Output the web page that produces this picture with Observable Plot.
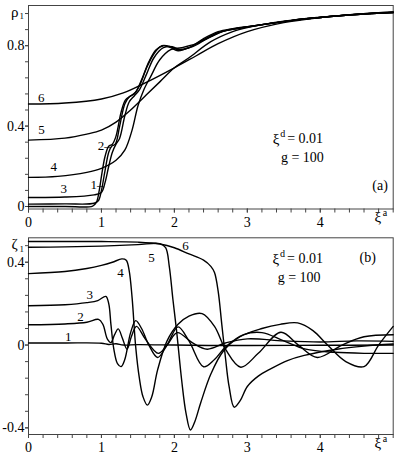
<!DOCTYPE html>
<html><head><meta charset="utf-8">
<script src="https://cdn.jsdelivr.net/npm/d3@7"></script>
<script src="https://cdn.jsdelivr.net/npm/@observablehq/plot@0.6"></script>
<style>body{margin:0;background:#fff} svg{display:block;overflow:visible} svg text{font-family:"Liberation Serif","DejaVu Serif",serif !important}</style>
</head><body><div id="chart"></div>
<script>
// ---- data ----
const xMajor = [0, 1, 2, 3, 4];
const rhoLabels = [0, 0.4, 0.8];
const zetaLabels = [-0.4, 0, 0.4];

// panel (a): rho_1 vs xi^a, curves 1..6
const rho1 = [[0,0],[0.5,0],[0.88,0.002],[0.93,0.02],[0.97,0.08],[1.0,0.15],[1.05,0.25],[1.1,0.3],[1.15,0.31],[1.2,0.35],[1.27,0.47],[1.33,0.53],[1.4,0.55],[1.47,0.57],[1.55,0.63],[1.65,0.72],[1.75,0.78],[1.85,0.8],[1.95,0.79],[2.05,0.775],[2.2,0.79],[2.4,0.835],[2.6,0.87],[2.8,0.885],[3,0.895],[3.3,0.91],[3.6,0.925],[4,0.94],[4.5,0.955],[5,0.965]];
const rho2 = [[0,0.012],[0.5,0.013],[0.9,0.016],[0.96,0.03],[1.0,0.08],[1.05,0.18],[1.1,0.27],[1.14,0.3],[1.19,0.31],[1.25,0.4],[1.32,0.51],[1.38,0.545],[1.45,0.56],[1.52,0.6],[1.62,0.69],[1.72,0.76],[1.83,0.8],[1.95,0.795],[2.05,0.78],[2.2,0.79],[2.4,0.83],[2.6,0.865],[2.8,0.882],[3,0.893],[3.3,0.91],[3.6,0.925],[4,0.94],[4.5,0.955],[5,0.965]];
const rho3 = [[0,0.045],[0.5,0.047],[0.9,0.058],[1.0,0.07],[1.05,0.12],[1.1,0.2],[1.15,0.27],[1.2,0.31],[1.25,0.34],[1.32,0.45],[1.38,0.52],[1.45,0.55],[1.52,0.58],[1.62,0.66],[1.72,0.74],[1.85,0.79],[1.97,0.795],[2.08,0.78],[2.25,0.795],[2.45,0.835],[2.65,0.87],[2.85,0.885],[3,0.895],[3.3,0.91],[3.6,0.925],[4,0.94],[4.5,0.955],[5,0.965]];
const rho4 = [[0,0.145],[0.4,0.15],[0.8,0.17],[1.0,0.19],[1.2,0.23],[1.32,0.28],[1.42,0.38],[1.5,0.5],[1.58,0.58],[1.68,0.65],[1.8,0.73],[1.95,0.78],[2.1,0.79],[2.3,0.81],[2.5,0.845],[2.7,0.875],[3,0.893],[3.3,0.91],[3.6,0.925],[4,0.94],[4.5,0.955],[5,0.965]];
const rho5 = [[0,0.33],[0.5,0.34],[0.8,0.36],[1.0,0.38],[1.2,0.42],[1.4,0.48],[1.6,0.55],[1.8,0.62],[2.0,0.69],[2.2,0.74],[2.5,0.82],[2.8,0.87],[3,0.89],[3.5,0.922],[4,0.942],[4.5,0.957],[5,0.967]];
const rho6 = [[0,0.51],[0.5,0.515],[1.0,0.535],[1.3,0.565],[1.6,0.615],[2.0,0.69],[2.3,0.75],[2.6,0.81],[3,0.87],[3.5,0.915],[4,0.94],[4.5,0.957],[5,0.968]];

// panel (b): zeta_1 vs xi^a, curves 1..6
const zeta1 = [[0,0.01],[0.5,0.01],[1.0,0.009],[1.1,0.003],[1.2,0.006],[1.3,0.0],[1.5,0.002],[2,0.0],[2.5,-0.002],[3,-0.002],[4,-0.001],[5,0.0]];
const zeta2 = [[0,0.098],[0.5,0.102],[0.8,0.11],[0.96,0.124],[1.02,0.1],[1.08,0.03],[1.13,0.012],[1.18,0.05],[1.23,0.078],[1.29,0.03],[1.35,-0.02],[1.41,0.04],[1.48,0.09],[1.6,0.03],[1.78,-0.04],[1.9,0.0],[2.04,0.06],[2.25,0.01],[2.45,-0.02],[2.7,0.01],[3.0,0.03],[3.5,0.02],[4,0.015],[4.5,0.02],[5,0.018]];
const zeta3 = [[0,0.19],[0.5,0.195],[0.8,0.205],[0.95,0.215],[1.06,0.235],[1.1,0.2],[1.13,0.1],[1.17,-0.02],[1.22,-0.09],[1.27,-0.104],[1.32,-0.07],[1.4,0.06],[1.47,0.118],[1.55,0.08],[1.65,0.0],[1.77,-0.06],[1.9,0.0],[2.05,0.088],[2.2,0.02],[2.4,-0.105],[2.55,-0.07],[2.7,-0.01],[2.95,0.05],[3.2,0.06],[3.5,0.02],[3.8,-0.02],[4.2,-0.035],[4.6,-0.04],[5,-0.04]];
const zeta4 = [[0,0.345],[0.5,0.355],[0.8,0.37],[1.0,0.385],[1.15,0.4],[1.28,0.416],[1.34,0.41],[1.38,0.36],[1.42,0.23],[1.47,-0.01],[1.52,-0.16],[1.57,-0.25],[1.63,-0.29],[1.69,-0.25],[1.77,-0.12],[1.9,0.02],[2.05,0.1],[2.2,0.14],[2.38,0.152],[2.55,0.09],[2.7,-0.02],[2.91,-0.107],[3.15,-0.04],[3.46,0.062],[3.7,0.0],[3.96,-0.06],[4.3,0.0],[4.6,0.04],[5,0.05]];
const zeta5 = [[0,0.472],[0.5,0.474],[1.0,0.478],[1.5,0.485],[1.8,0.49],[1.88,0.47],[1.93,0.38],[1.98,0.22],[2.03,0.07],[2.1,-0.17],[2.16,-0.33],[2.22,-0.41],[2.28,-0.37],[2.36,-0.28],[2.5,-0.14],[2.67,-0.03],[2.9,0.04],[3.2,0.08],[3.45,0.1],[3.69,0.107],[3.9,0.07],[4.1,0.0],[4.35,-0.08],[4.6,-0.104],[4.8,0.0],[5,0.09]];
const zeta6 = [[0,0.5],[0.5,0.5],[1.0,0.5],[1.5,0.497],[1.8,0.488],[2.0,0.47],[2.2,0.44],[2.4,0.41],[2.5,0.38],[2.55,0.35],[2.6,0.26],[2.65,0.1],[2.7,-0.06],[2.75,-0.2],[2.82,-0.3],[2.9,-0.27],[3.0,-0.2],[3.15,-0.15],[3.32,-0.115],[3.55,-0.075],[3.78,-0.05],[4.23,-0.02],[4.6,-0.005],[5,0.005]];

// curve number labels [x, y, text]
const rhoCurveLabels = [[0.174,0.541,"6"],[0.178,0.382,"5"],[0.347,0.196,"4"],[0.484,0.088,"3"],[1.04,0.30,"2–"],[0.94,0.11,"1–"]];
const zetaCurveLabels = [[2.154,0.481,"6"],[1.687,0.421,"5"],[1.262,0.347,"4"],[0.841,0.243,"3"],[0.713,0.138,"2"],[0.545,0.041,"1"]];

// ---- drawing ----
const FONT = "Liberation Serif";
const toRows = arr => arr.flatMap((s, i) => s.map(([x, y]) => ({x, y, k: i + 1})));

function panel({height, marginTop, marginBottom, yDomain, yLabels, series, curveLabels, yName, note, tag}) {
  const rows = toRows(series);
  const lab = curveLabels.map(([x, y, t]) => ({x, y, t}));
  const minorY = d3.range(-0.48, 1.0001, 0.08).map(v => +v.toFixed(2)).filter(v => v >= yDomain[0] && v <= yDomain[1]);
  const T = {fontFamily: FONT};
  return Plot.plot({
    width: 398, height, marginLeft: 28, marginRight: 5.3, marginTop, marginBottom,
    style: {fontFamily: FONT, fontSize: "14px", color: "black", background: "white", overflow: "visible"},
    x: {domain: [0, 5], label: null},
    y: {domain: yDomain, label: null},
    marks: [
      Plot.frame({stroke: "#444", strokeWidth: 1}),
      Plot.axisX(d3.range(0, 5.001, 0.2), {tickSize: 4, text: null, label: null, stroke: "#444"}),
      Plot.axisX(xMajor, {tickSize: 4, tickPadding: 4, tickFormat: d => String(d), label: null, fontSize: 14, stroke: "#444", ...T}),
      Plot.axisY(minorY, {tickSize: 3, text: null, label: null, stroke: "#444"}),
      Plot.axisY(yLabels, {tickSize: 3, tickPadding: 1, tickFormat: d => String(d), label: null, fontSize: 14, stroke: "#444", ...T}),
      Plot.line(rows, {x: "x", y: "y", z: "k", stroke: "black", strokeWidth: 1.4, curve: "catmull-rom"}),
      Plot.text(lab, {x: "x", y: "y", text: "t", fontSize: 13, ...T}),
      // axis name xi^a
      Plot.text([0], {x: 4.79, frameAnchor: "bottom", dy: 13, text: () => "ξ", fontSize: 15, ...T}),
      Plot.text([0], {x: 4.79, frameAnchor: "bottom", dy: 7, dx: 7, text: () => "a", fontSize: 10, ...T}),
      // y name
      Plot.text([0], {x: -0.19, y: yName.y, text: () => yName.sym, fontSize: 15, ...T}),
      Plot.text([0], {x: -0.19, y: yName.y, dx: 7, dy: 4, text: () => "1", fontSize: 9, ...T}),
      // annotations
      Plot.text([0], {x: note.x, y: note.y1, textAnchor: "start", text: () => "ξ", fontSize: 15, ...T}),
      Plot.text([0], {x: note.x, y: note.y1, textAnchor: "start", dx: 7.5, dy: -5, text: () => "d", fontSize: 10, ...T}),
      Plot.text([0], {x: note.x, y: note.y1, textAnchor: "start", dx: 14.5, text: () => "= 0.01", fontSize: 14, ...T}),
      Plot.text([0], {x: note.x2, y: note.y2, text: () => "g = 100", fontSize: 14, ...T}),
      Plot.text([0], {x: tag.x, y: tag.y, text: () => tag.t, fontSize: 14, ...T})
    ]
  });
}

const panelA = panel({
  height: 230, marginTop: 5, marginBottom: 21.5, yDomain: [-0.0125, 1.0], yLabels: rhoLabels,
  series: [rho1, rho2, rho3, rho4, rho5, rho6], curveLabels: rhoCurveLabels,
  yName: {sym: "ρ", y: 0.965},
  note: {x: 3.347, y1: 0.337, x2: 3.755, y2: 0.245},
  tag: {x: 4.82, y: 0.104, t: "(a)"}
});
const panelB = panel({
  height: 228, marginTop: 7.3, marginBottom: 24, yDomain: [-0.432, 0.518], yLabels: zetaLabels,
  series: [zeta1, zeta2, zeta3, zeta4, zeta5, zeta6], curveLabels: zetaCurveLabels,
  yName: {sym: "ζ", y: 0.485},
  note: {x: 3.346, y1: 0.416, x2: 3.71, y2: 0.328},
  tag: {x: 4.65, y: 0.424, t: "(b)"}
});
const root = document.getElementById("chart");
root.appendChild(panelA);
root.appendChild(panelB);
</script>
</body></html>
